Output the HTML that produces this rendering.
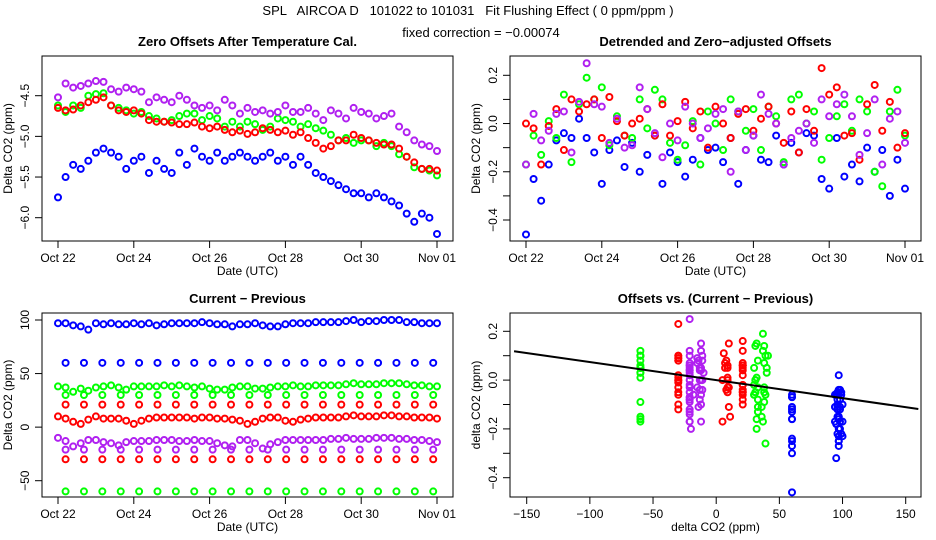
<!DOCTYPE html>
<html><head><meta charset="utf-8"><style>
body{margin:0;background:#fff;}
svg{display:block;font-family:"Liberation Sans",sans-serif;}
text{white-space:pre;}
</style></head><body>
<svg id="c" width="936" height="540" viewBox="0 0 936 540">
<text x="468" y="15" font-size="13" text-anchor="middle" xml:space="preserve">SPL   AIRCOA D   101022 to 101031   Fit Flushing Effect ( 0 ppm/ppm )</text>
<text x="481" y="37" font-size="13" text-anchor="middle">fixed correction = −0.00074</text>
</svg>
<script>
// ---- data ----
const dayTicks=["Oct 22","Oct 24","Oct 26","Oct 28","Oct 30","Nov 01"];
const dayTickVals=[0,2,4,6,8,10];
const blue1=[-5.75,-5.5,-5.35,-5.4,-5.3,-5.2,-5.15,-5.2,-5.25,-5.4,-5.3,-5.25,-5.45,-5.3,-5.4,-5.45,-5.2,-5.35,-5.15,-5.25,-5.3,-5.2,-5.3,-5.25,-5.2,-5.25,-5.3,-5.25,-5.2,-5.3,-5.25,-5.35,-5.25,-5.35,-5.45,-5.5,-5.55,-5.6,-5.65,-5.7,-5.7,-5.75,-5.7,-5.75,-5.8,-5.85,-5.95,-6.05,-5.95,-6.0,-6.2];
const purple1=[-4.52,-4.35,-4.4,-4.38,-4.35,-4.32,-4.33,-4.42,-4.45,-4.4,-4.42,-4.45,-4.58,-4.52,-4.55,-4.58,-4.5,-4.55,-4.62,-4.65,-4.62,-4.68,-4.55,-4.62,-4.72,-4.65,-4.7,-4.68,-4.72,-4.7,-4.62,-4.7,-4.7,-4.65,-4.72,-4.8,-4.68,-4.72,-4.78,-4.65,-4.7,-4.72,-4.78,-4.75,-4.72,-4.88,-4.95,-5.05,-5.1,-5.12,-5.18];
const green1=[-4.62,-4.7,-4.62,-4.65,-4.5,-4.48,-4.47,-4.62,-4.65,-4.68,-4.72,-4.7,-4.75,-4.78,-4.82,-4.8,-4.75,-4.72,-4.72,-4.8,-4.75,-4.78,-4.88,-4.82,-4.88,-4.82,-4.85,-4.92,-4.88,-4.78,-4.8,-4.82,-4.88,-4.85,-4.9,-4.93,-4.98,-5.05,-5.02,-5.08,-5.05,-5.05,-5.12,-5.08,-5.12,-5.22,-5.25,-5.38,-5.4,-5.42,-5.48];
const red1=[-4.65,-4.68,-4.67,-4.62,-4.58,-4.55,-4.52,-4.62,-4.68,-4.7,-4.68,-4.72,-4.8,-4.82,-4.82,-4.83,-4.85,-4.85,-4.83,-4.88,-4.9,-4.88,-4.92,-4.95,-4.93,-4.97,-4.95,-4.9,-4.92,-4.95,-4.93,-4.98,-4.95,-5.02,-5.08,-5.15,-5.12,-5.05,-5.05,-4.98,-5.02,-5.05,-5.08,-5.1,-5.1,-5.15,-5.25,-5.32,-5.4,-5.4,-5.42];
const blue2=[-0.46,-0.23,-0.32,-0.17,-0.07,-0.04,-0.06,0.02,-0.06,-0.12,-0.25,-0.11,-0.07,-0.18,-0.08,-0.2,-0.13,-0.05,-0.25,-0.12,-0.16,-0.22,-0.15,-0.06,-0.11,-0.1,-0.16,-0.06,-0.25,-0.11,-0.05,-0.15,-0.16,-0.05,-0.17,-0.08,-0.12,-0.04,-0.05,-0.23,-0.27,-0.06,-0.22,-0.17,-0.24,-0.1,-0.2,-0.11,-0.3,-0.15,-0.27];
const green2=[-0.17,-0.05,-0.13,0.01,-0.06,0.12,-0.16,0.08,0.19,0.1,0.15,-0.09,0.03,-0.05,-0.06,0.1,-0.02,0.14,0.1,-0.08,-0.15,-0.09,0.01,-0.17,0.05,0.0,-0.11,0.1,0.05,-0.03,0.06,-0.11,0.07,0.03,-0.16,0.1,0.12,0.0,0.05,-0.15,-0.06,0.03,0.08,-0.03,0.1,0.05,-0.2,-0.26,0.05,0.14,-0.05];
const red2=[0.0,-0.02,-0.17,-0.01,0.06,-0.11,0.1,0.05,0.08,0.1,-0.06,0.11,0.01,-0.05,0.0,0.02,0.06,-0.05,0.08,-0.05,0.01,0.09,-0.02,0.05,-0.1,0.07,0.0,-0.06,0.04,0.06,-0.03,0.02,0.07,0.0,-0.08,0.05,-0.12,0.06,-0.03,0.23,0.12,0.15,-0.05,-0.04,-0.15,0.08,0.16,-0.03,0.09,-0.1,-0.04];
const purple2=[-0.17,0.04,-0.07,-0.03,0.04,0.05,-0.12,0.09,0.25,0.08,0.07,-0.08,0.02,-0.1,-0.09,0.15,0.06,-0.04,-0.14,0.0,-0.07,0.07,0.0,-0.06,-0.02,0.04,0.06,-0.2,0.05,-0.11,-0.05,0.12,0.04,0.0,-0.17,-0.06,-0.03,0.0,-0.08,0.1,0.03,0.08,0.12,0.03,-0.13,-0.04,0.1,-0.17,0.02,0.05,-0.08];
const blue3=[97,97,95,94,91,97,96,97,96,96,97,96,97,95,96,97,97,97,97,98,97,96,96,94,96,96,97,95,94,94,96,97,97,97,98,98,98,98,99,100,98,99,99,100,100,100,98,98,97,97,97];
const green3=[38,37,33,36,34,37,38,39,37,35,38,38,38,38,39,38,39,38,37,38,36,35,35,37,38,38,36,36,37,38,38,39,38,38,39,39,39,39,40,41,40,40,40,41,41,41,40,39,39,38,38];
const red3=[10,8,5,3,7,10,8,8,8,6,3,6,8,9,9,9,9,9,8,9,9,8,8,7,6,3,5,8,9,9,6,5,7,8,9,9,9,9,10,11,10,10,10,11,11,10,10,9,9,9,8];
const purple3=[-10,-13,-18,-15,-12,-12,-14,-15,-17,-14,-13,-13,-13,-12,-12,-12,-13,-13,-12,-13,-13,-15,-17,-18,-12,-12,-15,-20,-16,-14,-12,-12,-12,-12,-12,-12,-11,-11,-10,-11,-11,-11,-10,-10,-10,-11,-11,-12,-12,-13,-14];
const fixedLevels=[60,30,21,-21,-30,-60];
const fixedColors=["blue","green","red","purple","red","green"];
const fitSlope=-0.00074;
const fitIntercept=0.0;

const COL={blue:"#0000ff",green:"#00ff00",red:"#ff0000",purple:"#b020f0"};
const svg=document.getElementById('c');
const NS="http://www.w3.org/2000/svg";
function mk(tag,attrs,parent){const e=document.createElementNS(NS,tag);for(const k in attrs)e.setAttribute(k,attrs[k]);(parent||svg).appendChild(e);return e;}
function lin(d0,d1,r0,r1){return v=>r0+(v-d0)*(r1-r0)/(d1-d0);}
const tOf=(i,n)=>i*10/(n-1);

function panel(name,box,xs,ys,title,xlab,ylab,xt,xtl,yt,ytl,ylabs){
  const g=mk('g',{});
  
  
  const r=mk('rect',{x:box[0],y:box[1],width:box[2]-box[0],height:box[3]-box[1],fill:'none',stroke:'#000','stroke-width':1},g);
  
  const t=mk('text',{x:(box[0]+box[2])/2,y:box[1]-10,'font-size':13,'font-weight':'bold','text-anchor':'middle'},g);t.textContent=title;
  
  const xa=mk('g',{},g);
  mk('line',{x1:xs(xt[0]),x2:xs(xt[xt.length-1]),y1:box[3],y2:box[3],stroke:'#000'},xa);
  xt.forEach((v,i)=>{mk('line',{x1:xs(v),x2:xs(v),y1:box[3],y2:box[3]+7,stroke:'#000'},xa);
    const l=mk('text',{x:xs(v),y:box[3]+21,'font-size':12,'text-anchor':'middle'},xa);l.textContent=xtl[i];
    });
  const xl=mk('text',{x:(box[0]+box[2])/2,y:box[3]+34,'font-size':12,'text-anchor':'middle'},g);xl.textContent=xlab;
  
  const ya=mk('g',{},g);
  mk('line',{x1:box[0],x2:box[0],y1:ys(yt[0]),y2:ys(yt[yt.length-1]),stroke:'#000'},ya);
  yt.forEach(v=>{mk('line',{x1:box[0]-7,x2:box[0],y1:ys(v),y2:ys(v),stroke:'#000'},ya);});
  ytl.forEach((s,i)=>{const v=ylabs[i];const x=box[0]-13,y=ys(v);
    const l=mk('text',{x:x,y:y,'font-size':12,'text-anchor':'middle',transform:`rotate(-90 ${x} ${y})`},ya);l.textContent=s;
    });
  const yx=box[0]-30,yy=(box[1]+box[3])/2;
  const yl=mk('text',{x:yx,y:yy,'font-size':12,'text-anchor':'middle',transform:`rotate(-90 ${yx} ${yy})`},g);yl.textContent=ylab;
  
  return g;
}
function pt(g,x,y,c){const e=mk('circle',{cx:x,cy:y,r:3,fill:'none',stroke:COL[c],'stroke-width':2},g);
  }

// Panel 1
{const box=[42,56,453,241];const xs=lin(0,10,58,437),ys=lin(-4.5,-6,95.7,217.7);
 const g=panel('panel-zero-offsets',box,xs,ys,'Zero Offsets After Temperature Cal.','Date (UTC)','Delta CO2 (ppm)',dayTickVals,dayTicks,[-4.5,-5,-5.5,-6],['−4.5','−5.0','−5.5','−6.0'],[-4.5,-5,-5.5,-6]);
 [[blue1,'blue'],[green1,'green'],[red1,'red'],[purple1,'purple']].forEach(([a,c])=>a.forEach((v,i)=>pt(g,xs(tOf(i,a.length)),ys(v),c)));}
// Panel 2
{const box=[510,56,921,241];const xs=lin(0,10,526,905),ys=lin(0.2,-0.4,75.3,220);
 const g=panel('panel-detrended',box,xs,ys,'Detrended and Zero−adjusted Offsets','Date (UTC)','Delta CO2 (ppm)',dayTickVals,dayTicks,[0.2,0.1,0,-0.1,-0.2,-0.3,-0.4],['0.2','0.0','−0.2','−0.4'],[0.2,0,-0.2,-0.4]);
 [[blue2,'blue'],[green2,'green'],[red2,'red'],[purple2,'purple']].forEach(([a,c])=>a.forEach((v,i)=>pt(g,xs(tOf(i,a.length)),ys(v),c)));}
// Panel 3
{const box=[42,313,453,497];const xs=lin(0,10,58,437),ys=lin(100,-50,320,480.7);
 const g=panel('panel-current-previous',box,xs,ys,'Current − Previous','Date (UTC)','Delta CO2 (ppm)',dayTickVals,dayTicks,[100,50,0,-50],['100','50','0','−50'],[100,50,0,-50]);
 [[blue3,'blue'],[green3,'green'],[red3,'red'],[purple3,'purple']].forEach(([a,c])=>a.forEach((v,i)=>pt(g,xs(tOf(i,a.length)),ys(v),c)));
 fixedLevels.forEach((lv,k)=>{for(let j=0;j<21;j++)pt(g,xs(0.2+j*0.485),ys(lv),fixedColors[k]);});}
// Panel 4
{const box=[510,313,921,497];const xs=lin(-150,150,526.7,905.7),ys=lin(0.2,-0.4,331.3,477.7);
 const g=panel('panel-offsets-vs-diff',box,xs,ys,'Offsets vs. (Current − Previous)','delta CO2 (ppm)','delta CO2 (ppm)',[-150,-100,-50,0,50,100,150],['−150','−100','−50','0','50','100','150'],[0.2,0.1,0,-0.1,-0.2,-0.3,-0.4],['0.2','0.0','−0.2','−0.4'],[0.2,0,-0.2,-0.4]);
 blue2.forEach((v,i)=>pt(g,xs(i%4==0?fixedLevels[0]:blue3[i]),ys(v),'blue'));
 green2.forEach((v,i)=>pt(g,xs(i%3==0?fixedLevels[5]:i%3==1?fixedLevels[1]+(i%4):green3[i]),ys(v),'green'));
 red2.forEach((v,i)=>pt(g,xs(i%3==0?fixedLevels[4]:i%3==1?fixedLevels[2]:red3[i]),ys(v),'red'));
 purple2.forEach((v,i)=>pt(g,xs(i%2==0?fixedLevels[3]:purple3[i]),ys(v),'purple'));
 const x0=-160,x1=160;
 const ln=mk('line',{x1:xs(x0),y1:ys(fitIntercept+fitSlope*x0),x2:xs(x1),y2:ys(fitIntercept+fitSlope*x1),stroke:'#000','stroke-width':2},g);
 }
</script>
</body></html>
